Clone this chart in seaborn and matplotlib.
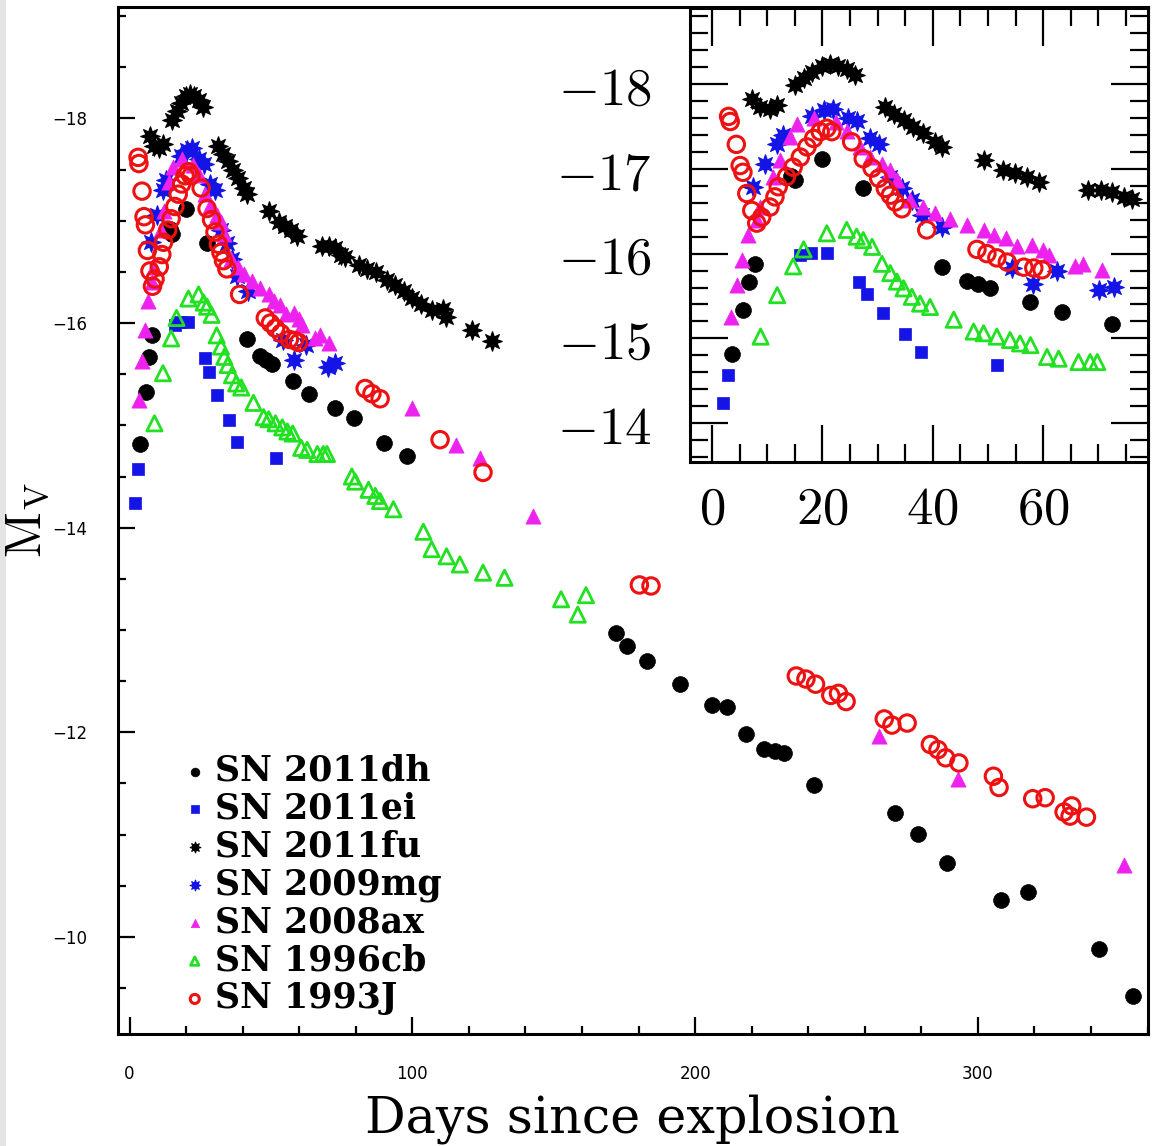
import numpy as np
import pandas as pd
import seaborn as sns
import matplotlib.pyplot as plt
from matplotlib.ticker import MultipleLocator
from matplotlib.patches import Rectangle

# ---------------- data (days since explosion, absolute V magnitude) ----------------
sn_names = ["SN 2011dh", "SN 2011ei", "SN 2011fu", "SN 2009mg", "SN 2008ax", "SN 1996cb", "SN 1993J"]

dh_day = [3.7, 5.7, 6.7, 7.8, 14.3, 15.0, 20.0, 27.4, 41.6, 46.2, 48.2, 50.4, 57.7, 63.4, 72.5,
          79.2, 90.1, 98.0, 172.0, 176.0, 183.0, 194.5, 206.0, 211.2, 218.0, 224.3, 228.4, 231.5,
          242.2, 270.7, 278.8, 289.0, 308.2, 317.7, 342.7, 354.9]
dh_mag = [-14.82, -15.33, -15.67, -15.88, -16.92, -16.87, -17.12, -16.78, -15.84, -15.68, -15.64, -15.60,
          -15.43, -15.31, -15.17, -15.07, -14.83, -14.70, -12.97, -12.84, -12.70, -12.47, -12.27, -12.25,
          -11.98, -11.84, -11.82, -11.80, -11.48, -11.21, -11.01, -10.72, -10.36, -10.44, -9.88, -9.42]

ei_day = [2.05, 2.96, 16.0, 17.9, 20.8, 26.7, 28.05, 30.9, 35.0, 37.9, 51.7]
ei_mag = [-14.24, -14.57, -15.98, -16.01, -16.01, -15.66, -15.52, -15.30, -15.05, -14.84, -14.68]

fu_day = [7.2, 8.7, 10.5, 11.7, 15.0, 16.6, 18.1, 19.9, 21.4, 22.9, 24.4, 25.9, 31.4, 32.9, 34.7, 36.5,
          38.3, 40.4, 41.6, 49.2, 52.8, 54.9, 57.1, 59.2, 68.2, 70.4, 72.5, 74.6, 76.1, 81.0, 84.0, 87.0,
          91.0, 94.0, 97.0, 100.0, 103.0, 107.0, 111.0, 112.0, 121.0, 128.0]
fu_mag = [-17.83, -17.73, -17.71, -17.75, -17.99, -18.07, -18.15, -18.22, -18.24, -18.22, -18.18, -18.11,
          -17.73, -17.65, -17.58, -17.50, -17.42, -17.32, -17.26, -17.10, -16.99, -16.95, -16.91, -16.85,
          -16.75, -16.75, -16.73, -16.67, -16.65, -16.57, -16.53, -16.50, -16.42, -16.37, -16.31, -16.25,
          -16.19, -16.13, -16.14, -16.06, -15.93, -15.82]

mg_day = [7.5, 9.6, 11.7, 12.9, 18.1, 20.2, 22.0, 24.7, 26.2, 28.6, 30.2, 32.3, 34.4, 36.2, 38.0, 41.7,
          54.3, 58.1, 62.5, 70.2, 72.8]
mg_mag = [-16.79, -17.06, -17.30, -17.40, -17.63, -17.69, -17.71, -17.60, -17.56, -17.36, -17.30, -16.91,
          -16.78, -16.63, -16.46, -16.31, -15.83, -15.64, -15.79, -15.57, -15.61]

ax_day = [3.5, 4.5, 5.4, 6.6, 8.1, 8.7, 11.1, 12.3, 14.1, 15.4, 18.5, 22.5, 24.5, 26.8, 28.6, 30.8, 32.3,
          33.5, 35.9, 38.3, 40.4, 43.2, 46.2, 49.2, 51.0, 53.3, 55.2, 58.0, 60.0, 61.0, 65.7, 67.3, 70.6,
          99.8, 115.6, 123.8, 142.6, 264.9, 292.9, 351.8]
ax_mag = [-15.25, -15.63, -15.93, -16.22, -16.40, -16.55, -16.91, -17.10, -17.38, -17.53, -17.60, -17.55,
          -17.45, -17.26, -17.14, -17.06, -16.99, -16.87, -16.63, -16.55, -16.48, -16.41, -16.34, -16.28,
          -16.22, -16.18, -16.09, -16.10, -16.04, -15.98, -15.85, -15.88, -15.81, -15.17, -14.81, -14.68,
          -14.11, -11.96, -11.54, -10.70]

cb_day = [8.8, 11.8, 14.7, 16.6, 20.8, 24.4, 26.2, 27.4, 29.0, 30.8, 32.3, 33.5, 34.7, 36.2, 37.7, 39.5,
          43.8, 47.4, 49.2, 51.6, 54.0, 55.8, 57.7, 60.7, 62.8, 66.4, 68.5, 69.8, 78.6, 79.8, 84.5, 86.9,
          88.6, 93.3, 103.9, 106.8, 112.1, 116.8, 125.0, 132.6, 152.6, 158.5, 161.4]
cb_mag = [-15.02, -15.51, -15.85, -16.05, -16.24, -16.28, -16.20, -16.16, -16.08, -15.88, -15.77, -15.67,
          -15.59, -15.49, -15.41, -15.37, -15.22, -15.08, -15.06, -15.02, -14.98, -14.94, -14.92, -14.78,
          -14.76, -14.72, -14.72, -14.72, -14.50, -14.45, -14.37, -14.31, -14.26, -14.18, -13.96, -13.79,
          -13.72, -13.64, -13.56, -13.51, -13.30, -13.15, -13.34]

j_day = [3.0, 3.3, 4.4, 5.1, 5.6, 6.3, 7.2, 8.1, 9.0, 10.5, 11.4, 12.0, 13.5, 14.7, 16.0, 17.2, 18.4, 19.6,
         20.8, 21.7, 25.3, 27.4, 29.0, 30.2, 31.4, 32.3, 33.2, 34.4, 38.9, 48.0, 49.8, 51.6, 53.5, 56.5,
         58.3, 59.8, 83.3, 85.7, 88.6, 109.8, 125.0, 180.3, 184.4, 235.8, 239.2, 242.6, 248.0, 250.7,
         253.4, 266.9, 269.6, 275.0, 283.2, 285.9, 288.6, 293.3, 305.5, 307.5, 319.4, 323.8, 330.5, 332.6,
         333.2, 338.4]
j_mag = [-17.62, -17.56, -17.29, -17.04, -16.96, -16.71, -16.51, -16.36, -16.43, -16.55, -16.67, -16.79,
         -16.91, -17.02, -17.14, -17.26, -17.36, -17.44, -17.48, -17.44, -17.32, -17.12, -17.01, -16.89,
         -16.77, -16.69, -16.61, -16.53, -16.28, -16.05, -16.00, -15.95, -15.90, -15.84, -15.83, -15.81,
         -15.36, -15.31, -15.26, -14.86, -14.54, -13.44, -13.43, -12.55, -12.52, -12.47, -12.36, -12.38,
         -12.30, -12.13, -12.07, -12.09, -11.88, -11.83, -11.75, -11.70, -11.57, -11.46, -11.35, -11.36,
         -11.22, -11.18, -11.28, -11.17]

x_ticks_main = [0, 100, 200, 300]
y_ticks_main = [-18, -16, -14, -12, -10]
x_ticks_inset = [0, 20, 40, 60]
y_ticks_inset = [-18, -17, -16, -15, -14]

all_days = [dh_day, ei_day, fu_day, mg_day, ax_day, cb_day, j_day]
all_mags = [dh_mag, ei_mag, fu_mag, mg_mag, ax_mag, cb_mag, j_mag]
frames = [pd.DataFrame({"day": d, "mag": m, "sn": n}) for n, d, m in zip(sn_names, all_days, all_mags)]
df = pd.concat(frames, ignore_index=True)

# ---------------- styles ----------------
sns.set_theme(style="ticks", rc={"axes.edgecolor": "black", "xtick.color": "black",
                                 "ytick.color": "black", "text.color": "black",
                                 "axes.labelcolor": "black"})
plt.rcParams["font.family"] = ["DejaVu Sans"]
plt.rcParams["mathtext.fontset"] = "cm"

BLUE = "#1414e6"
MAG = "#ee22ee"
GREEN = "#22e022"
RED = "#ee1111"
star = (8, 1, 0)
styles = {
    "SN 2011dh": dict(marker="o", s=130, color="black", edgecolor="black", linewidth=0.5),
    "SN 2011ei": dict(marker="s", s=85, color=BLUE, edgecolor=BLUE, linewidth=0.5),
    "SN 2011fu": dict(marker=star, s=200, color="black", edgecolor="black", linewidth=0.8),
    "SN 2009mg": dict(marker=star, s=200, color=BLUE, edgecolor=BLUE, linewidth=0.8),
    "SN 2008ax": dict(marker="^", s=120, color=MAG, edgecolor=MAG, linewidth=0.5),
    "SN 1996cb": dict(marker="^", s=120, facecolors="none", edgecolor=GREEN, linewidth=2.0),
    "SN 1993J": dict(marker="o", s=140, facecolors="none", edgecolor=RED, linewidth=2.2),
}

W, H = 1153, 1146
fig = plt.figure(figsize=(W / 100, H / 100), dpi=100)
fig.patch.set_facecolor("white")
fig.patches.append(Rectangle((0, 0), 6 / W, 1, transform=fig.transFigure,
                             facecolor="#e4e4e4", edgecolor="none", zorder=-10))

# main axes
L, R, T, B = 118, 1147.5, 7, 1034
ax = fig.add_axes([L / W, 1 - B / H, (R - L) / W, (B - T) / H])
for n in sn_names:
    sns.scatterplot(data=df[df.sn == n], x="day", y="mag", ax=ax, label=n, **styles[n])

ax.set_xlim(-4.1, 360)
ax.set_ylim(-9.05, -19.09)
ax.set_xticks(x_ticks_main)
ax.set_xticklabels([str(v) for v in x_ticks_main], fontsize=12)
ax.set_yticks(y_ticks_main)
ax.set_yticklabels(["\u2212" + str(abs(v)) for v in y_ticks_main], fontsize=12)
ax.xaxis.set_minor_locator(MultipleLocator(20))
ax.yaxis.set_minor_locator(MultipleLocator(0.5))
ax.tick_params(which="both", direction="in", top=False, right=False, width=1.6)
ax.tick_params(which="major", length=12, pad=22)
ax.tick_params(which="minor", length=6)
for sp in ax.spines.values():
    sp.set_linewidth(2.2)
    sp.set_visible(True)

ax.set_xlabel("Days since explosion", fontfamily="DejaVu Serif", fontsize=36.5, labelpad=8)
ax.set_ylabel(r"$\mathrm{M_V}$", fontsize=36, labelpad=0)

leg = ax.legend(loc="upper left", bbox_to_anchor=(0.067, 0.273), frameon=False,
                prop={"family": "DejaVu Serif", "weight": "bold", "size": 25},
                markerscale=0.55, handlelength=0.45, handletextpad=0.35,
                labelspacing=0.11, borderpad=0, borderaxespad=0, scatterpoints=1)

# inset axes
iL, iR, iT, iB = 690, 1147.5, 8, 462
axi = fig.add_axes([iL / W, 1 - iB / H, (iR - iL) / W, (iB - iT) / H])
axi.set_facecolor("white")
early = df[df.day < 77.5]
for n in sn_names:
    sns.scatterplot(data=early[early.sn == n], x="day", y="mag", ax=axi, legend=False, **styles[n])
axi.set_xlim(-3.99, 78.9)
axi.set_ylim(-13.54, -18.90)
axi.set_xticks(x_ticks_inset)
axi.set_xticklabels(["$%d$" % v for v in x_ticks_inset], fontsize=38)
axi.set_yticks(y_ticks_inset)
axi.set_yticklabels(["$%d$" % v for v in y_ticks_inset], fontsize=38)
axi.xaxis.set_minor_locator(MultipleLocator(5))
axi.yaxis.set_minor_locator(MultipleLocator(0.2))
axi.tick_params(which="both", direction="in", top=True, right=True, width=1.6)
axi.tick_params(which="major", length=27)
axi.tick_params(which="minor", length=13)
axi.tick_params(axis="x", which="major", pad=15)
axi.tick_params(axis="y", which="major", pad=28)
axi.set_xlabel("")
axi.set_ylabel("")
for sp in axi.spines.values():
    sp.set_linewidth(2.2)

fig.savefig("out.png", dpi=100, facecolor="white")
